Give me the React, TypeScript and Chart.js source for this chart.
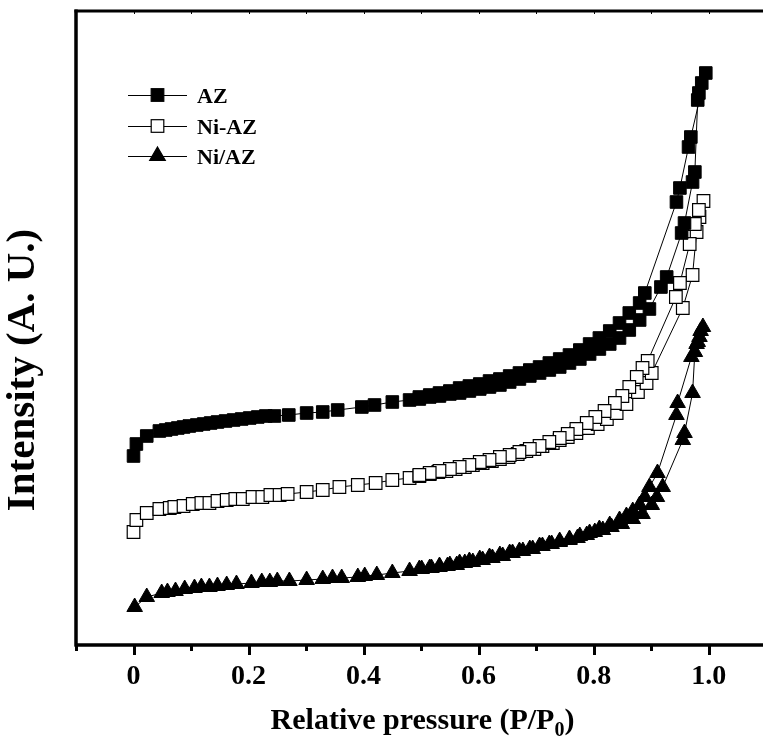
import React, { useEffect, useRef } from "react";
import { Chart, registerables } from "chart.js";

Chart.register(...registerables);

// ---------- data (P/P0, intensity a.u.) ----------
const AZ_ADS_X = [0.000, 0.005, 0.023, 0.045, 0.056, 0.066, 0.077, 0.087, 0.097, 0.110, 0.122, 0.134, 0.146, 0.160, 0.174, 0.188, 0.202, 0.216, 0.230, 0.245, 0.270, 0.301, 0.329, 0.355, 0.397, 0.419, 0.450, 0.480, 0.497, 0.515, 0.532, 0.550, 0.567, 0.584, 0.602, 0.619, 0.637, 0.654, 0.671, 0.689, 0.706, 0.723, 0.741, 0.758, 0.776, 0.793, 0.810, 0.828, 0.845, 0.862, 0.880, 0.897, 0.917, 0.927, 0.953, 0.958, 0.972, 0.976, 0.981, 0.983, 0.988, 0.995];
const AZ_ADS_Y = [189, 201, 209, 214, 215, 216, 217, 218, 219, 220, 221, 222, 223, 224, 225, 226, 227, 228, 229, 229, 230, 232, 233, 235, 238, 240, 243, 245, 246, 248, 249, 251, 252, 254, 256, 258, 260, 263, 266, 269, 272, 275, 278, 282, 286, 291, 296, 301, 307, 315, 325, 336, 358, 368, 412, 422, 463, 473, 545, 552, 562, 572];
const AZ_DES_X = [0.969, 0.965, 0.950, 0.944, 0.889, 0.880, 0.862, 0.845, 0.828, 0.810, 0.793, 0.776, 0.758, 0.741, 0.723, 0.706, 0.689, 0.671, 0.654, 0.637, 0.619, 0.602, 0.584, 0.567, 0.550, 0.532, 0.515, 0.497];
const AZ_DES_Y = [508, 498, 457, 443, 352, 342, 332, 322, 314, 307, 301, 295, 290, 286, 282, 278, 275, 272, 269, 266, 264, 261, 259, 257, 254, 252, 250, 248];

const NIAZ_ADS_X = [0.000, 0.005, 0.023, 0.045, 0.063, 0.071, 0.087, 0.103, 0.118, 0.132, 0.146, 0.162, 0.177, 0.190, 0.207, 0.224, 0.238, 0.254, 0.268, 0.301, 0.329, 0.358, 0.390, 0.421, 0.450, 0.480, 0.497, 0.515, 0.530, 0.544, 0.560, 0.576, 0.590, 0.607, 0.623, 0.637, 0.652, 0.668, 0.683, 0.697, 0.711, 0.729, 0.741, 0.755, 0.770, 0.790, 0.807, 0.823, 0.840, 0.857, 0.877, 0.892, 0.901, 0.955, 0.972, 0.979, 0.984, 0.991];
const NIAZ_ADS_Y = [113, 125, 132, 136, 137, 138, 139, 141, 142, 142, 144, 145, 146, 146, 148, 148, 150, 150, 151, 153, 155, 158, 160, 162, 165, 167, 169, 171, 173, 174, 176, 178, 180, 182, 184, 186, 188, 191, 194, 196, 199, 202, 205, 208, 212, 217, 221, 226, 232, 241, 253, 262, 272, 337, 370, 413, 428, 444];
const NIAZ_DES_X = [0.983, 0.976, 0.967, 0.950, 0.943, 0.894, 0.885, 0.875, 0.862, 0.850, 0.837, 0.819, 0.803, 0.788, 0.770, 0.755, 0.741, 0.723, 0.706, 0.689, 0.671, 0.654, 0.637, 0.619, 0.602, 0.584, 0.567, 0.550, 0.532, 0.515, 0.497];
const NIAZ_DES_Y = [435, 421, 401, 362, 348, 284, 277, 268, 258, 249, 242, 234, 228, 222, 216, 211, 207, 203, 199, 196, 193, 190, 188, 185, 183, 180, 178, 176, 174, 172, 170];

const NIZ_ADS_X = [0.002, 0.023, 0.049, 0.059, 0.073, 0.089, 0.106, 0.118, 0.132, 0.146, 0.162, 0.179, 0.205, 0.223, 0.237, 0.250, 0.271, 0.301, 0.329, 0.346, 0.362, 0.390, 0.402, 0.423, 0.450, 0.480, 0.501, 0.518, 0.532, 0.546, 0.562, 0.576, 0.590, 0.607, 0.624, 0.642, 0.659, 0.677, 0.694, 0.711, 0.727, 0.741, 0.758, 0.772, 0.788, 0.802, 0.816, 0.831, 0.849, 0.868, 0.885, 0.901, 0.910, 0.920, 0.955, 0.958, 0.972, 0.976, 0.979, 0.984, 0.990];
const NIZ_ADS_Y = [38, 48, 52, 53, 54, 56, 57, 58, 58, 59, 60, 61, 62, 63, 63, 64, 64, 65, 66, 67, 67, 68, 69, 70, 72, 74, 76, 77, 78, 79, 80, 82, 83, 85, 87, 89, 92, 94, 96, 99, 101, 103, 105, 107, 110, 113, 115, 118, 121, 126, 131, 140, 148, 158, 205, 212, 252, 293, 301, 308, 318];
const NIZ_DES_X = [0.986, 0.981, 0.970, 0.946, 0.944, 0.911, 0.897, 0.889, 0.880, 0.868, 0.857, 0.845, 0.828, 0.810, 0.793, 0.776, 0.758, 0.741, 0.723, 0.706, 0.689, 0.671, 0.654, 0.637, 0.619, 0.602, 0.584, 0.567, 0.550, 0.532, 0.515, 0.497];
const NIZ_DES_Y = [314, 303, 288, 242, 230, 172, 158, 148, 140, 134, 129, 125, 120, 116, 112, 109, 106, 104, 101, 99, 96, 94, 92, 90, 88, 86, 84, 82, 80, 79, 77, 76];

const SERIES_NAMES = ["AZ", "Ni-AZ", "Ni/AZ"];
const X_MIN = -0.1;
const X_MAX = 1.091;
const Y_MIN = 0;
const Y_MAX = 634;
const X_MAJOR = [0, 0.2, 0.4, 0.6, 0.8, 1.0];
const X_LABELS = ["0", "0.2", "0.4", "0.6", "0.8", "1.0"];
const X_MINOR = [-0.1, 0.1, 0.3, 0.5, 0.7, 0.9];
const X_TITLE = "Relative pressure (P/P";
const X_TITLE_SUB = "0";
const X_TITLE_END = ")";
const Y_TITLE = "Intensity (A. U.)";

const FONT = "'Liberation Serif', 'Times New Roman', serif";

function pts(xs: number[], ys: number[]) {
  return xs.map((x, i) => ({ x, y: ys[i] }));
}

function drawMarker(ctx: CanvasRenderingContext2D, kind: number, x: number, y: number) {
  ctx.save();
  ctx.lineWidth = 1.2;
  ctx.strokeStyle = "#000";
  if (kind === 0 || kind === 1) {
    const h = 6.3;
    ctx.fillStyle = kind === 0 ? "#000" : "#fff";
    ctx.fillRect(x - h, y - h, 2 * h, 2 * h);
    ctx.strokeRect(x - h, y - h, 2 * h, 2 * h);
  } else {
    const r = 9;
    ctx.fillStyle = "#000";
    ctx.beginPath();
    ctx.moveTo(x, y - r);
    ctx.lineTo(x + r * 0.866, y + r * 0.5);
    ctx.lineTo(x - r * 0.866, y + r * 0.5);
    ctx.closePath();
    ctx.fill();
    ctx.stroke();
  }
  ctx.restore();
}

const framePlugin = {
  id: "framePlugin",
  afterDraw(chart: any) {
    const { ctx, chartArea: ca, scales } = chart;
    const xs = scales.x;
    ctx.save();
    ctx.strokeStyle = "#000";
    ctx.fillStyle = "#000";
    // axes lines
    ctx.lineWidth = 3.5;
    ctx.beginPath();
    ctx.moveTo(ca.left, ca.top - 1.5);
    ctx.lineTo(ca.left, ca.bottom + 1.5);
    ctx.moveTo(ca.left - 1.5, ca.bottom);
    ctx.lineTo(chart.width, ca.bottom);
    ctx.stroke();
    ctx.lineWidth = 3;
    ctx.beginPath();
    ctx.moveTo(ca.left - 1.5, ca.top);
    ctx.lineTo(chart.width, ca.top);
    ctx.stroke();
    // bottom ticks
    ctx.lineWidth = 3;
    ctx.beginPath();
    for (const v of X_MAJOR) {
      const p = Math.round(xs.getPixelForValue(v)) + 0.5;
      ctx.moveTo(p, ca.bottom);
      ctx.lineTo(p, ca.bottom + 10);
    }
    for (const v of X_MINOR) {
      const p = Math.round(xs.getPixelForValue(v)) + 0.5;
      ctx.moveTo(p, ca.bottom);
      ctx.lineTo(p, ca.bottom + 6);
    }
    ctx.stroke();
    // small top ticks
    ctx.lineWidth = 1;
    ctx.beginPath();
    for (const v of [...X_MAJOR, ...X_MINOR]) {
      const p = Math.round(xs.getPixelForValue(v)) + 0.5;
      ctx.moveTo(p, ca.top);
      ctx.lineTo(p, ca.top + 3);
    }
    ctx.stroke();

    // x title
    ctx.textBaseline = "alphabetic";
    ctx.textAlign = "left";
    ctx.font = `bold 30px ${FONT}`;
    const w1 = ctx.measureText(X_TITLE).width;
    ctx.font = `bold 20px ${FONT}`;
    const w2 = ctx.measureText(X_TITLE_SUB).width;
    ctx.font = `bold 30px ${FONT}`;
    const w3 = ctx.measureText(X_TITLE_END).width;
    const total = w1 + w2 + w3;
    const cx = (ca.left + chart.width) / 2 + 3;
    let tx = cx - total / 2;
    const by = 729;
    ctx.fillText(X_TITLE, tx, by);
    tx += w1;
    ctx.font = `bold 20px ${FONT}`;
    ctx.fillText(X_TITLE_SUB, tx, by + 7);
    tx += w2;
    ctx.font = `bold 30px ${FONT}`;
    ctx.fillText(X_TITLE_END, tx, by);

    // y title
    ctx.save();
    ctx.translate(23, 370);
    ctx.rotate(-Math.PI / 2);
    ctx.textAlign = "center";
    ctx.textBaseline = "middle";
    ctx.font = `bold 41px ${FONT}`;
    ctx.fillText(Y_TITLE, 0, 0);
    ctx.restore();

    // legend
    const rows = [95, 126, 156];
    SERIES_NAMES.forEach((name, i) => {
      const y = rows[i];
      ctx.lineWidth = 1;
      ctx.beginPath();
      ctx.moveTo(128, y + 0.5);
      ctx.lineTo(187, y + 0.5);
      ctx.stroke();
      drawMarker(ctx, i, 157.5, y);
      ctx.fillStyle = "#000";
      ctx.font = `bold 22px ${FONT}`;
      ctx.textAlign = "left";
      ctx.textBaseline = "alphabetic";
      ctx.fillText(name, 197, y + 7.5);
    });
    ctx.restore();
  },
};

export default function App() {
  const ref = useRef<HTMLCanvasElement | null>(null);
  useEffect(() => {
    if (!ref.current) return;
    const chart = new Chart(ref.current, {
      type: "scatter",
      data: {
        datasets: [
          {
            label: SERIES_NAMES[0],
            data: [...pts(AZ_ADS_X, AZ_ADS_Y), ...pts(AZ_DES_X, AZ_DES_Y)],
            showLine: true,
            borderColor: "#000",
            borderWidth: 1,
            pointStyle: "rect",
            pointRadius: 8.9,
            pointBackgroundColor: "#000",
            pointBorderColor: "#000",
            pointBorderWidth: 1,
            tension: 0,
          },
          {
            label: SERIES_NAMES[1],
            data: [...pts(NIAZ_ADS_X, NIAZ_ADS_Y), ...pts(NIAZ_DES_X, NIAZ_DES_Y)],
            showLine: true,
            borderColor: "#000",
            borderWidth: 1,
            pointStyle: "rect",
            pointRadius: 8.9,
            pointBackgroundColor: "#fff",
            pointBorderColor: "#000",
            pointBorderWidth: 1.2,
            tension: 0,
          },
          {
            label: SERIES_NAMES[2],
            data: [...pts(NIZ_ADS_X, NIZ_ADS_Y), ...pts(NIZ_DES_X, NIZ_DES_Y)],
            showLine: true,
            borderColor: "#000",
            borderWidth: 1,
            pointStyle: "triangle",
            pointRadius: 9,
            pointBackgroundColor: "#000",
            pointBorderColor: "#000",
            pointBorderWidth: 1,
            tension: 0,
          },
        ],
      },
      options: {
        animation: false,
        responsive: false,
        devicePixelRatio: 1,
        layout: { autoPadding: false, padding: { top: 11, right: 2, left: 0, bottom: 0 } },
        plugins: { legend: { display: false }, tooltip: { enabled: false } },
        scales: {
          x: {
            type: "linear",
            min: X_MIN,
            max: X_MAX,
            afterBuildTicks: (s: any) => {
              s.ticks = X_MAJOR.map((v) => ({ value: v }));
            },
            afterFit: (s: any) => {
              s.height = 100;
              s.paddingLeft = 0;
              s.paddingRight = 0;
            },
            grid: { display: false, drawTicks: false },
            border: { display: false },
            ticks: {
              autoSkip: false,
              maxRotation: 0,
              padding: 15,
              color: "#000",
              font: { family: FONT, size: 28, weight: "bold" },
              callback: (_v: any, i: number) => X_LABELS[i],
            },
          },
          y: {
            type: "linear",
            min: Y_MIN,
            max: Y_MAX,
            afterFit: (s: any) => {
              s.width = 76;
              s.paddingTop = 0;
              s.paddingBottom = 0;
            },
            grid: { display: false, drawTicks: false },
            border: { display: false },
            ticks: { display: false },
          },
        },
      },
      plugins: [framePlugin],
    });
    return () => chart.destroy();
  }, []);
  return (
    <div style={{ position: "absolute", left: 0, top: 0, width: 763, height: 745, background: "#fff" }}>
      <canvas ref={ref} width={763} height={745} style={{ display: "block" }} />
    </div>
  );
}
